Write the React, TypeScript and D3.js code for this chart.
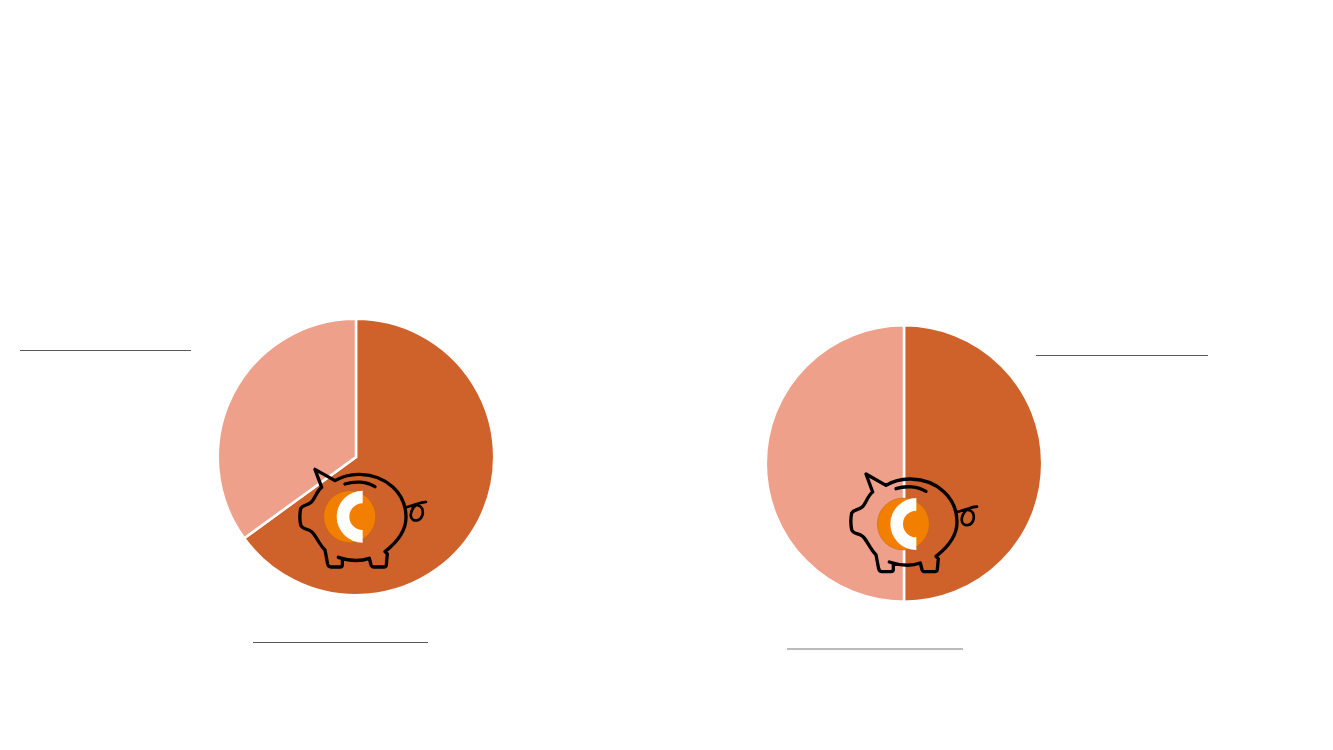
import React from "react";
import * as d3 from "d3";

// Slice values (percent)
const leftValues: number[] = [65, 35];
const rightValues: number[] = [50, 50];
const sliceColors: string[] = ["#CF622B", "#EEA08B"];

const width = 1333;
const height = 750;

const pie = d3.pie<number>().sort(null).value(d => d);
const arc = d3.arc<d3.PieArcDatum<number>>().innerRadius(0).outerRadius(138.2);

// Piggy bank outline, drawn at 3x and scaled down
const Pig: React.FC<{ x: number; y: number; coinDx: number; coinDy: number }> = ({ x, y, coinDx, coinDy }) => (
    <g transform={`translate(${x},${y}) scale(${1 / 3})`}>
        <g transform={`translate(${coinDx},${coinDy})`}>
            <circle cx={209} cy={200} r={78} fill="#F27F00" stroke="#B5651D" strokeWidth={1.5} />
            <path d="M248,122 A78,78 0 0 0 248,278 L248,240 A40,40 0 0 1 248,160 Z" fill="#fff" />
        </g>
        <g fill="none" stroke="#000" strokeWidth={10} strokeLinecap="round" strokeLinejoin="round">
            <path d="M175,322 C205,332 240,335 268,325 L273,345 Q275,351 282,351 L312,351 Q318,351 319,344 L322,312 L315,305 C350,278 379,245 378,200 C377,130 320,75 240,73 C212,72 185,80 165,92 L105,58 L125,112 C108,125 105,148 92,158 C82,166 68,165 62,175 Q57,200 62,225 C66,238 85,236 95,245 C108,256 118,285 135,300 L143,342 Q145,351 153,351 L180,351 Q187,351 187,344 L187,326" />
            <path d="M195,102 C225,92 260,95 285,110" />
            <path d="M376,172 C392,170 405,160 438,156 C412,156 394,172 392,195 C392,208 402,213 412,211 C426,208 432,190 426,175 C420,165 405,163 394,168" strokeWidth={8} />
        </g>
    </g>
);

const App: React.FC = () => {
    const charts = [
        { values: leftValues, cx: 356, cy: 457 },
        { values: rightValues, cx: 904, cy: 463.5 },
    ];

    return (
        <svg width={width} height={height} style={{ position: "absolute", top: 0, left: 0 }}>
            <rect width={width} height={height} fill="#fff" />
            {charts.map((c, i) => (
                <g key={i} transform={`translate(${c.cx},${c.cy})`}>
                    {pie(c.values).map((d, j) => (
                        <path key={j} d={arc(d) as string} fill={sliceColors[j]} stroke="#fff" strokeWidth={2.5} />
                    ))}
                </g>
            ))}
            <Pig x={280} y={450} coinDx={0} coinDy={0} />
            <Pig x={831} y={454.7} coinDx={8} coinDy={8} />
            {/* Leader lines, their labels are blank in the source */}
            <line x1={20} x2={191} y1={350.5} y2={350.5} stroke="#595959" strokeWidth={1} />
            <line x1={253} x2={428} y1={642.5} y2={642.5} stroke="#595959" strokeWidth={1} />
            <line x1={1036} x2={1208} y1={355.5} y2={355.5} stroke="#595959" strokeWidth={1} />
            <line x1={787} x2={963} y1={649} y2={649} stroke="#777" strokeWidth={1} />
        </svg>
    );
};

export default App;
